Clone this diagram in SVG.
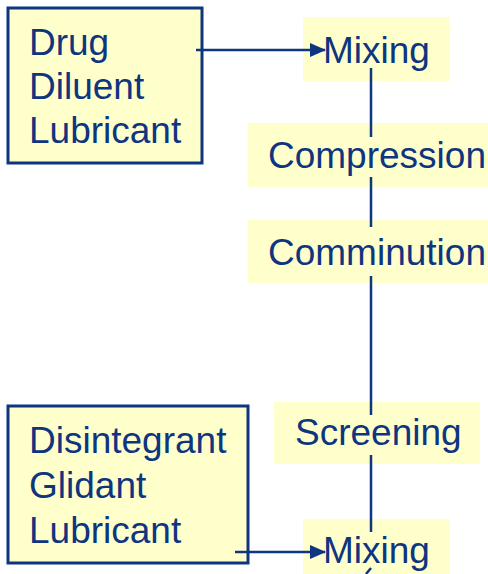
<svg xmlns="http://www.w3.org/2000/svg" width="488" height="574" viewBox="0 0 488 574">
<style>
.lbl{font-family:"Liberation Sans",Arial,sans-serif;font-size:37px;fill:#0e3580}
.box{fill:#ffffcc;stroke:#0e3580;stroke-width:3}
.hl{fill:#ffffcc}
.ln{stroke:#0e3580;stroke-width:2.5;fill:none}
</style>
<defs>
<marker id="ah" markerWidth="16" markerHeight="14" refX="15" refY="7" orient="auto" markerUnits="userSpaceOnUse">
<path d="M0,0 L16,7 L0,14 Z" fill="#0e3580"/>
</marker>
</defs>
<rect width="488" height="574" fill="#ffffff"/>
<g id="inputs1">
<rect class="box" x="8" y="8" width="194" height="155"/>
<text class="lbl" x="29" y="55">Drug</text>
<text class="lbl" x="29" y="99">Diluent</text>
<text class="lbl" x="29" y="143">Lubricant</text>
</g>
<g id="mixing1">
<rect class="hl" x="303" y="17" width="147" height="64"/>
<text class="lbl" x="323" y="63">Mixing</text>
</g>
<g id="compression">
<rect class="hl" x="248" y="123" width="240" height="64"/>
<text class="lbl" x="268" y="168">Compression</text>
</g>
<g id="comminution">
<rect class="hl" x="248" y="220" width="240" height="63"/>
<text class="lbl" x="268" y="265">Comminution</text>
</g>
<g id="screening">
<rect class="hl" x="274" y="402" width="206" height="62"/>
<text class="lbl" x="295" y="445">Screening</text>
</g>
<g id="inputs2">
<rect class="box" x="8" y="406" width="240" height="157"/>
<text class="lbl" x="29" y="453">Disintegrant</text>
<text class="lbl" x="29" y="498">Glidant</text>
<text class="lbl" x="29" y="543">Lubricant</text>
</g>
<g id="mixing2">
<rect class="hl" x="303" y="519" width="147" height="60"/>
<text class="lbl" x="323" y="563">Mixing</text>
</g>
<g id="connectors">
<line class="ln" x1="196" y1="50" x2="325" y2="50" marker-end="url(#ah)"/>
<line class="ln" x1="235" y1="552" x2="325" y2="552" marker-end="url(#ah)"/>
<line class="ln" x1="371" y1="68" x2="371" y2="137"/>
<line class="ln" x1="371" y1="177" x2="371" y2="227"/>
<line class="ln" x1="371" y1="276" x2="371" y2="415"/>
<line class="ln" x1="371" y1="455" x2="371" y2="532"/>
<line class="ln" x1="371" y1="568" x2="366" y2="574" stroke-width="2"/>
</g>
</svg>
